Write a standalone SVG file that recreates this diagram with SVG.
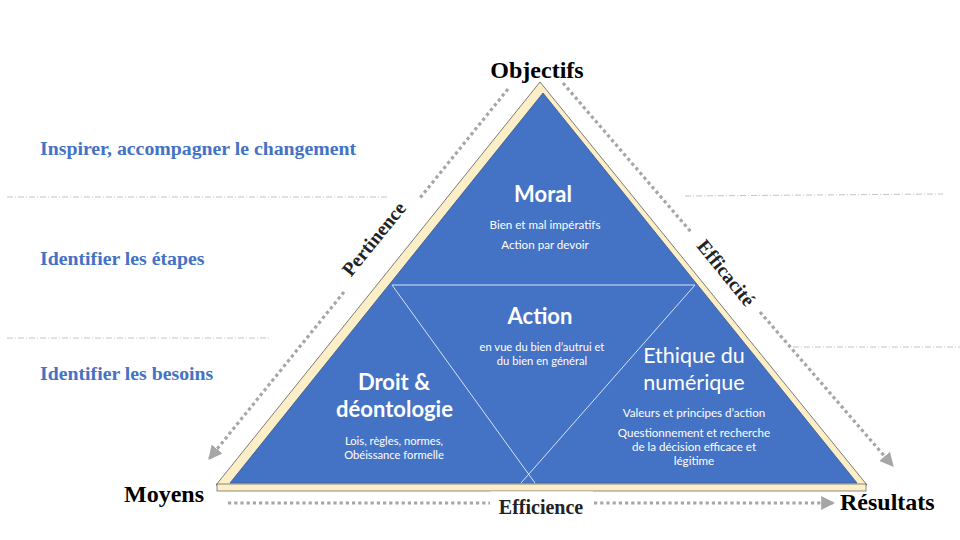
<svg xmlns="http://www.w3.org/2000/svg" width="960" height="540" viewBox="0 0 960 540">
<style>
.serif{font-family:"Liberation Serif","Times New Roman",serif;font-weight:bold;}
.corner{font-size:24px;fill:#000;}
.level{font-size:19.8px;fill:#4472c4;}
.side{font-size:19.5px;fill:#222;}
.sans{font-family:Lato,"Noto Sans",sans-serif;fill:#fff;text-anchor:middle;}
.head{font-size:22px;font-weight:bold;}
.head2{font-size:21.5px;font-weight:normal;}
.small{font-size:11.6px;}
.tight{font-size:11.2px;}
.sep{stroke:#c4c4c4;stroke-width:1;stroke-dasharray:6 2 1 2;fill:none;}
.dots{stroke:#a6a6a6;stroke-width:3.2;stroke-dasharray:3.2 3;fill:none;}
.div{stroke:#d6e2f5;stroke-width:1;fill:none;}
</style>
<defs>
<marker id="ah" markerUnits="userSpaceOnUse" markerWidth="14" markerHeight="14" viewBox="0 0 12 12" refX="11" refY="6" orient="auto">
<path d="M0,0 L12,6 L0,12 z" fill="#a6a6a6"/>
</marker>
</defs>
<rect width="960" height="540" fill="#fff"/>

<g id="separators">
<line class="sep" x1="7" y1="197" x2="387" y2="197"/>
<line class="sep" x1="685" y1="196" x2="943" y2="194"/>
<line class="sep" x1="7" y1="338" x2="270" y2="338"/>
<line class="sep" x1="793" y1="347" x2="960" y2="347"/>
</g>

<g id="levels" class="serif level">
<text x="40" y="155">Inspirer, accompagner le changement</text>
<text x="40" y="265">Identifier les étapes</text>
<text x="40" y="380">Identifier les besoins</text>
</g>

<g id="pyramid">
<polygon points="540,82 216,485 867,485" fill="#fcefc7" stroke="#5a5a5a" stroke-width="0.8"/>
<rect x="217" y="484" width="649" height="7" fill="#fcefc7" stroke="#6b6b6b" stroke-width="0.8"/>
<polygon points="543,93 230,483 857,483" fill="#4472c4" stroke="#3a5a8f" stroke-width="0.8"/>
</g>

<g id="dividers">
<line class="div" x1="392" y1="285" x2="695" y2="285"/>
<line class="div" x1="392" y1="285" x2="535" y2="483"/>
<line class="div" x1="695" y1="285" x2="521" y2="483"/>
</g>

<g id="moral" class="sans">
<text class="head" x="543" y="202">Moral</text>
<text class="small" x="545" y="229">Bien et mal impératifs</text>
<text class="small" x="545" y="249">Action par devoir</text>
</g>

<g id="action" class="sans">
<text class="head" x="540" y="324">Action</text>
<text class="tight" x="542" y="351">en vue du bien d’autrui et</text>
<text class="tight" x="542" y="365">du bien en général</text>
</g>

<g id="droit" class="sans">
<text class="head" x="394" y="390">Droit &amp;</text>
<text class="head" x="394.5" y="417">déontologie</text>
<text class="tight" x="394" y="445">Lois, règles, normes,</text>
<text class="tight" x="394" y="459">Obéissance formelle</text>
</g>

<g id="ethique" class="sans">
<text class="head2" x="694" y="363">Ethique du</text>
<text class="head2" x="694" y="390">numérique</text>
<text class="small" x="694" y="417">Valeurs et principes d’action</text>
<text class="small" x="694" y="437">Questionnement et recherche</text>
<text class="small" x="694" y="451">de la décision efficace et</text>
<text class="small" x="694" y="465">légitime</text>
</g>

<g id="connectors">
<line class="dots" x1="508" y1="89" x2="420" y2="198"/>
<line class="dots" x1="344" y1="292" x2="209" y2="459" marker-end="url(#ah)"/>
<line class="dots" x1="563" y1="83" x2="691" y2="232"/>
<line class="dots" x1="760" y1="312" x2="893" y2="466" marker-end="url(#ah)"/>
<line class="dots" x1="228" y1="503" x2="490" y2="503"/>
<line class="dots" x1="594" y1="503" x2="834" y2="503" marker-end="url(#ah)"/>
</g>

<g id="corner-labels" class="serif corner">
<text x="537" y="78" text-anchor="middle">Objectifs</text>
<text x="124" y="502">Moyens</text>
<text x="840" y="510">Résultats</text>
</g>

<g id="side-labels" class="serif side">
<rect x="490" y="491.5" width="103" height="27" fill="#fff"/>
<text x="541" y="514" text-anchor="middle" style="font-size:20px">Efficience</text>
<text x="379" y="243" text-anchor="middle" transform="rotate(-51 379 243)">Pertinence</text>
<text x="721" y="277" text-anchor="middle" transform="rotate(51 721 277)">Efficacité</text>
</g>
</svg>
